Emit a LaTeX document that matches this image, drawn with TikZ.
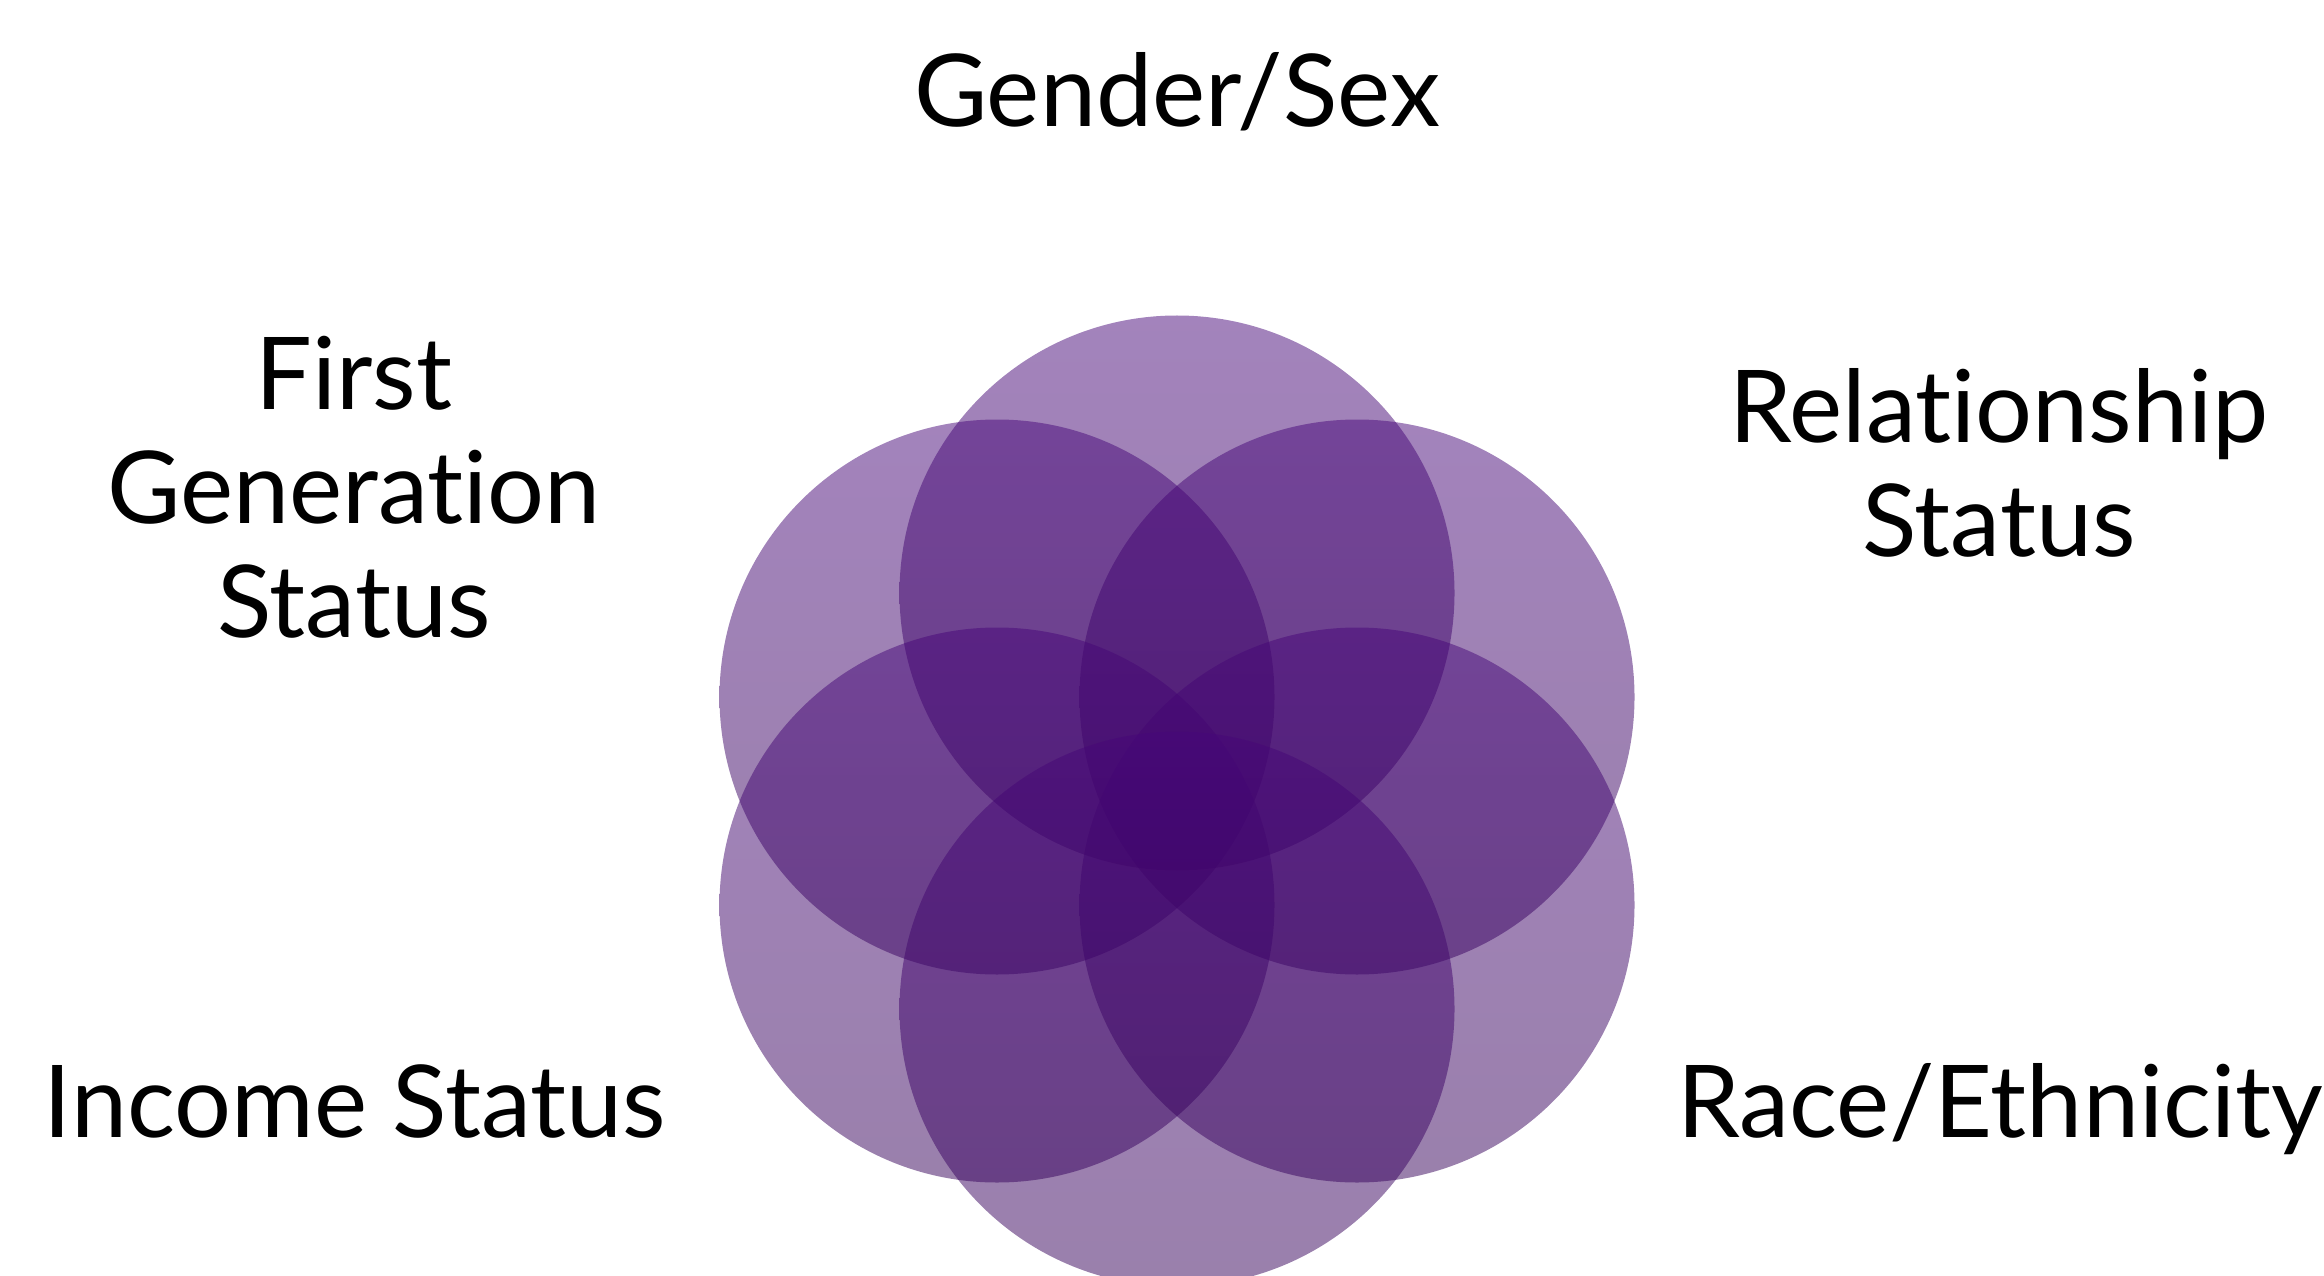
\documentclass[tikz,border=0pt]{standalone}
\usepackage{fontspec}
\setmainfont{Lato}[Ligatures={NoCommon,NoRare}]
\usetikzlibrary{positioning}
\definecolor{petaltop}{RGB}{71, 7, 121}
\definecolor{petalbot}{RGB}{53, 1, 89}

\begin{document}
\begin{tikzpicture}[
    petal/.style={top color=petaltop, bottom color=petalbot, fill opacity=0.5},
    factor/.style={font=\fontsize{28.6pt}{32.4pt}\selectfont, align=center, anchor=base, inner sep=0pt}
  ]
  \useasboundingbox (0,0) rectangle (23.24,12.75);
  % Overlapping circles
  \shade[petal] (11.77,6.82) circle (2.775);
  \shade[petal] (9.97,5.78) circle (2.775);
  \shade[petal] (13.57,5.78) circle (2.775);
  \shade[petal] (9.97,3.70) circle (2.775);
  \shade[petal] (13.57,3.70) circle (2.775);
  \shade[petal] (11.77,2.66) circle (2.775);
  % Labels
  \node[factor] (gender) at (11.77,11.48) {Gender/Sex};
  \node[factor] (firstgen) at (3.54,6.38) {First\\Generation\\Status};
  \node[factor] (relation) at (19.99,7.19) {Relationship\\Status};
  \node[factor] (income) at (3.55,1.38) {Income Status};
  \node[factor] (race) at (20.00,1.38) {Race/Ethnicity};
\end{tikzpicture}
\end{document}
